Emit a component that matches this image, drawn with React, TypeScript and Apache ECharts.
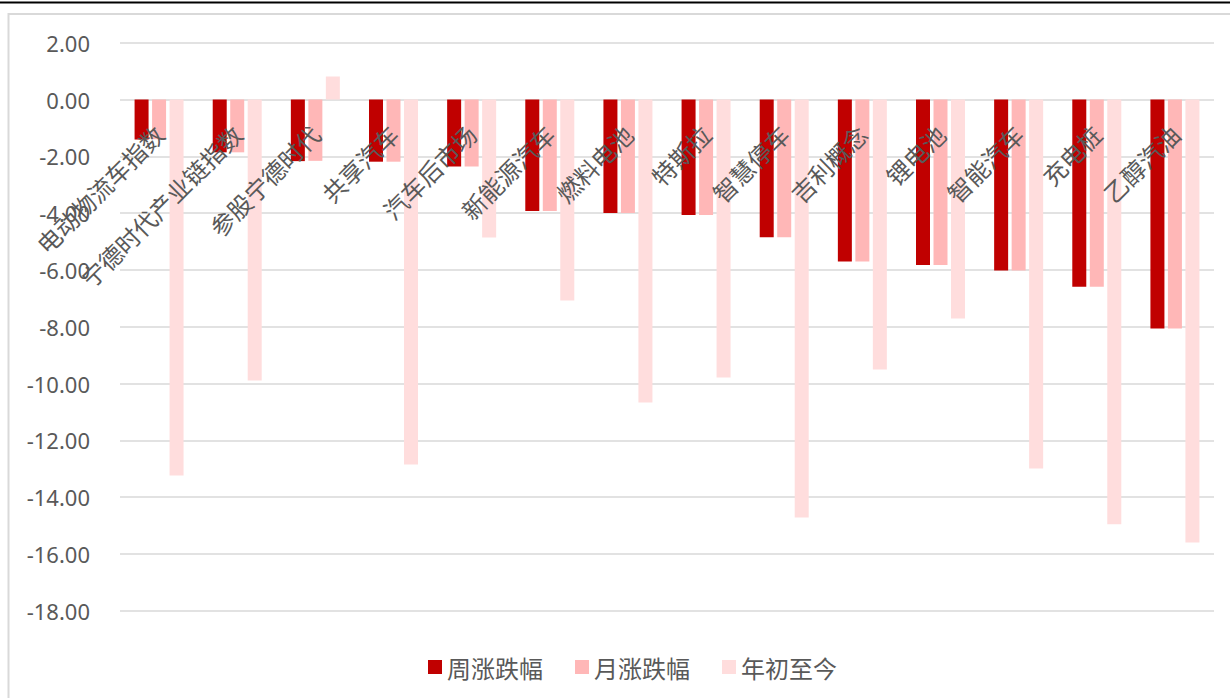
import React, { useEffect, useRef } from "react";
import * as echarts from "echarts";

const categories = [
  "电动物流车指数",
  "宁德时代产业链指数",
  "参股宁德时代",
  "共享汽车",
  "汽车后市场",
  "新能源汽车",
  "燃料电池",
  "特斯拉",
  "智慧停车",
  "吉利概念",
  "锂电池",
  "智能汽车",
  "充电桩",
  "乙醇汽油",
];

const weekChange = [-1.41, -1.86, -2.17, -2.19, -2.36, -3.93, -4.0, -4.07, -4.85, -5.7, -5.83, -6.02, -6.59, -8.06];
const monthChange = [-1.4, -1.86, -2.16, -2.19, -2.36, -3.93, -4.0, -4.07, -4.85, -5.7, -5.83, -6.02, -6.59, -8.06];
const ytdChange = [-13.24, -9.89, 0.81, -12.85, -4.86, -7.08, -10.67, -9.79, -14.72, -9.51, -7.71, -12.99, -14.96, -15.6];

const yTicks = { min: -18, max: 2, step: 2 };

const seriesNames = ["周涨跌幅", "月涨跌幅", "年初至今"];
const seriesColors = ["#c00000", "#ffb7b7", "#ffdddd"];

export default function App() {
  const ref = useRef<HTMLDivElement>(null);
  useEffect(() => {
    if (!ref.current) return;
    const chart = echarts.init(ref.current, undefined, { renderer: "svg" });
    const data = [weekChange, monthChange, ytdChange];
    const gridTop = 42.7;
    const gridBottomPx = 610.7;
    const zeroY = gridTop + ((gridBottomPx - gridTop) * (yTicks.max - 0)) / (yTicks.max - yTicks.min);
    chart.setOption({
      animation: false,
      backgroundColor: "#ffffff",
      graphic: [
        {
          type: "line",
          shape: { x1: 0, y1: 2.5, x2: 1230, y2: 2.5 },
          style: { stroke: "#000000", lineWidth: 2 },
          z: 100,
        },
        {
          type: "rect",
          shape: { x: 8.5, y: 14, width: 1240, height: 700 },
          style: { fill: "none", stroke: "#d9d9d9", lineWidth: 2 },
          z: 100,
        },
      ],
      grid: {
        left: 120,
        right: 16,
        top: gridTop,
        bottom: 698 - gridBottomPx,
        containLabel: false,
        outerBoundsMode: "none",
      },
      legend: {
        data: seriesNames,
        left: 423,
        top: 650,
        itemWidth: 14,
        itemHeight: 14,
        itemGap: 32,
        icon: "rect",
        textStyle: { fontSize: 24, color: "#595959", fontFamily: "Noto Sans CJK SC" },
      },
      xAxis: {
        type: "category",
        data: categories,
        z: 10,
        offset: -(gridBottomPx - zeroY),
        axisLine: { show: false, onZero: false },
        axisTick: { show: false },
        splitLine: { show: false },
        axisLabel: {
          interval: 0,
          rotate: 45,
          margin: 30,
          fontSize: 24,
          color: "#595959",
          fontFamily: "Noto Sans CJK SC",
        },
      },
      yAxis: {
        type: "value",
        min: yTicks.min,
        max: yTicks.max,
        interval: yTicks.step,
        axisLine: { show: false },
        axisTick: { show: false },
        splitLine: { lineStyle: { color: "#d9d9d9", width: 1.5 } },
        axisLabel: {
          margin: 30,
          fontSize: 22,
          color: "#595959",
          fontFamily: "Noto Sans",
          formatter: (v: number) => v.toFixed(2),
        },
      },
      series: seriesNames.map((name, i) => ({
        name,
        type: "bar",
        data: data[i],
        barWidth: 14,
        barGap: "25%",
        itemStyle: { color: seriesColors[i] },
      })),
    });
    return () => chart.dispose();
  }, []);
  return (
    <div
      ref={ref}
      style={{ position: "absolute", left: 0, top: 0, width: 1230, height: 698 }}
    />
  );
}
